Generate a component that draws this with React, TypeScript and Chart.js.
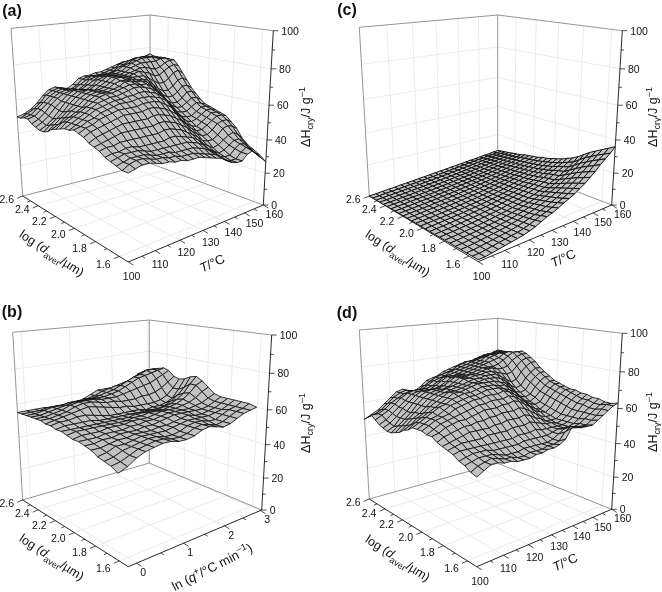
import React, { useEffect, useRef } from "react";
import { Chart, registerables } from "chart.js";
Chart.register(...registerables);

const dTicks = [2.6, 2.4, 2.2, 2.0, 1.8, 1.6];
const dMinor = [2.5, 2.3, 2.1, 1.9, 1.7];
const tempTicks = [100, 110, 120, 130, 140, 150, 160];
const tempMinor = [105, 115, 125, 135, 145, 155];
const qTicks = [0, 1, 2, 3];
const qMinor = [0.5, 1.5, 2.5];
const zTicks = [0, 20, 40, 60, 80, 100];
const zMinor = [10, 30, 50, 70, 90];

// rows: d from 2.6 to the low end; columns: T (or ln q) from low to high
const surfaceA = [
[50,51,53,56,60,63,64,63,62,64,67,68,68,69,69,70,71,72,73,73,73,74,74,75,76],
[50,52,54,57,61,63,64,63,62,64,67,68,68,68,69,70,71,73,74,74,75,75,75,75,75],
[51,52,55,58,61,63,64,63,63,65,67,69,69,69,69,70,72,73,75,76,76,76,75,75,75],
[51,52,55,58,61,63,64,64,63,65,68,69,69,69,70,71,73,74,76,77,77,77,76,75,75],
[49,51,54,58,61,63,64,64,64,66,68,70,70,70,70,71,73,75,76,77,77,77,76,76,75],
[48,50,53,57,60,63,65,65,64,66,69,70,70,70,70,71,73,74,75,75,75,75,76,76,75],
[47,49,52,56,60,63,65,65,65,67,69,71,71,70,70,71,72,73,73,72,71,72,74,75,75],
[47,50,53,56,60,63,65,66,65,67,69,71,71,70,70,71,72,71,70,68,68,70,72,73,72],
[48,51,54,57,60,63,65,66,66,67,69,71,71,70,70,70,70,68,66,64,64,66,69,70,68],
[50,52,55,58,60,63,65,66,66,67,69,70,70,70,69,69,68,65,62,60,60,62,65,66,64],
[51,54,56,58,60,63,65,66,66,67,68,70,70,69,69,68,65,62,59,57,57,59,62,62,60],
[52,55,57,59,61,63,65,66,66,67,68,69,69,68,68,66,63,60,56,54,54,56,59,59,57],
[53,55,57,59,61,63,64,65,65,66,67,68,68,67,66,64,61,57,54,52,52,54,56,56,54],
[53,55,57,59,61,62,63,64,64,65,65,66,66,65,64,62,59,55,51,50,50,52,54,53,52],
[54,55,57,58,60,61,62,63,63,63,64,64,64,63,62,60,56,52,49,48,48,50,52,52,51],
[53,55,56,58,59,60,61,61,61,61,62,62,62,61,59,57,53,50,47,46,47,49,51,51,50],
[52,54,55,56,57,58,59,59,59,59,60,60,59,58,56,54,50,47,45,44,46,48,50,50,49],
[50,52,53,54,55,56,56,56,56,56,57,57,56,55,53,51,48,45,43,43,45,47,49,49,48],
[49,50,51,52,53,53,53,53,53,53,54,54,53,52,50,48,45,43,41,41,43,46,47,47,45],
[48,49,49,50,50,50,50,50,50,50,51,51,50,49,47,45,43,40,39,39,41,44,45,44,42],
[46,47,47,48,48,47,47,47,47,47,48,48,47,46,45,43,40,38,36,37,39,41,42,40,37],
[45,46,47,47,47,46,45,45,45,45,45,45,45,44,43,41,38,36,34,35,37,39,39,37,34],
[44,45,46,46,46,45,44,44,44,43,43,43,43,42,41,39,37,34,33,33,36,38,37,34,32],
[43,45,46,46,45,44,44,43,43,42,42,42,41,40,39,38,36,33,32,32,35,37,35,32,30],
[43,44,45,45,44,43,43,42,42,41,41,41,40,39,38,37,35,33,32,32,35,36,33,30,27],
];

const surfaceB = [
[55,55,55,55,54,54,54,55,56,58,60,60,60,60,60,62,66,67,67],
[55,55,55,56,56,56,56,56,57,58,60,61,62,63,64,66,68,69,69],
[55,55,56,57,57,58,58,58,58,59,60,61,63,65,67,68,70,70,70],
[55,55,56,57,58,59,59,59,59,59,60,61,63,65,67,68,69,70,71],
[55,55,56,57,59,60,60,60,59,59,59,60,61,62,63,64,66,68,70],
[55,55,56,57,59,60,60,59,58,58,57,57,57,58,58,59,61,64,67],
[54,55,56,57,58,59,58,57,56,55,55,54,54,54,54,55,57,61,66],
[54,55,55,56,56,55,54,53,53,53,53,53,52,53,53,54,56,61,67],
[53,54,54,54,54,53,53,53,53,53,53,53,53,53,54,56,59,63,69],
[53,53,53,53,53,53,53,53,53,54,54,54,54,55,56,58,61,66,70],
[52,53,53,53,53,53,53,53,54,54,55,55,55,56,57,59,62,66,68],
[51,52,52,52,53,53,53,54,54,54,55,56,56,56,57,58,60,63,65],
[51,51,51,52,52,52,53,53,54,54,55,56,56,56,56,57,58,60,62],
[50,50,51,51,52,52,52,53,53,54,55,56,56,56,56,56,57,59,61],
[49,49,50,51,51,52,52,52,53,53,54,55,56,55,55,56,57,59,61],
[47,48,50,50,51,52,52,52,52,53,54,55,55,55,55,56,57,59,61],
[46,47,49,50,51,52,52,51,51,52,54,55,55,54,54,56,58,59,61],
[45,46,48,50,51,52,52,51,51,52,54,55,54,53,54,56,58,59,61],
[43,45,48,50,51,52,52,51,51,52,54,55,54,53,54,56,58,59,60],
];

const surfaceC = [
[0,.3,.7,1,1.3,1.7,2,2.3,2.7,3,3.3,3.7,4,4.3,4.7,5,5.3,5.7,6,6.3,6.7,7,7.3,7.7,8],
[0,.3,.7,1,1.3,1.7,2,2.3,2.7,3,3.3,3.7,4,4.4,4.8,5.2,5.6,6,6.3,6.7,7,7.4,7.7,8.1,8.5],
[0,.4,.7,1,1.3,1.7,2,2.3,2.7,3,3.4,3.7,4.1,4.5,4.9,5.3,5.7,6.1,6.5,6.9,7.3,7.7,8.1,8.6,9],
[.1,.4,.7,1,1.3,1.7,2,2.3,2.7,3,3.4,3.8,4.1,4.5,5,5.4,5.8,6.2,6.7,7.1,7.6,8,8.5,9,9.5],
[.1,.4,.7,1,1.3,1.7,2,2.3,2.7,3,3.4,3.8,4.2,4.6,5,5.4,5.9,6.3,6.8,7.3,7.8,8.3,8.8,9.4,10],
[.2,.5,.8,1.1,1.4,1.7,2,2.3,2.7,3,3.4,3.8,4.2,4.6,5,5.5,6,6.4,6.9,7.5,8,8.6,9.2,9.8,10.5],
[.2,.5,.8,1.1,1.4,1.7,2,2.3,2.7,3,3.4,3.8,4.2,4.6,5,5.5,6,6.5,7.1,7.7,8.3,8.9,9.6,10.3,11],
[.3,.5,.8,1.1,1.4,1.7,2,2.4,2.7,3.1,3.5,3.9,4.3,4.7,5.2,5.7,6.2,6.7,7.3,8,8.6,9.3,10.1,11,12],
[.3,.6,.8,1.1,1.4,1.7,2.1,2.4,2.8,3.1,3.5,3.9,4.3,4.8,5.3,5.8,6.3,6.9,7.5,8.2,8.9,9.7,10.5,11.5,12.5],
[.3,.6,.8,1.1,1.4,1.8,2.1,2.4,2.8,3.2,3.6,4,4.4,4.9,5.4,5.9,6.5,7.1,7.8,8.5,9.2,10,10.9,11.9,13],
[.4,.6,.9,1.2,1.5,1.8,2.1,2.4,2.8,3.2,3.6,4.1,4.5,5,5.5,6.1,6.7,7.3,8,8.8,9.6,10.4,11.3,12.4,13.5],
[.4,.6,.9,1.2,1.5,1.8,2.1,2.5,2.9,3.3,3.7,4.1,4.6,5.1,5.7,6.3,6.9,7.6,8.3,9.1,10,10.9,11.9,13.1,14.5],
[.5,.7,.9,1.2,1.5,1.8,2.1,2.5,2.9,3.3,3.7,4.2,4.7,5.3,5.9,6.6,7.3,8,8.8,9.6,10.5,11.4,12.4,13.7,15],
[.5,.7,1,1.2,1.5,1.8,2.2,2.5,2.9,3.4,3.8,4.3,4.8,5.4,6,6.7,7.4,8.2,9,9.9,10.9,11.9,13.1,14.5,16],
[.5,.7,1,1.3,1.6,1.9,2.2,2.6,3,3.4,3.9,4.4,5,5.6,6.2,7,7.8,8.6,9.5,10.5,11.6,12.7,14,15.4,17],
[.6,.8,1,1.3,1.6,1.9,2.3,2.7,3.1,3.5,4,4.6,5.2,5.8,6.5,7.3,8.1,9,10,11.1,12.2,13.4,14.8,16.3,18],
[.6,.8,1,1.3,1.6,2,2.3,2.7,3.2,3.6,4.1,4.7,5.4,6,6.8,7.6,8.6,9.6,10.7,11.9,13.2,14.5,16.1,17.7,19.5],
[.7,.9,1.1,1.4,1.7,2,2.4,2.8,3.2,3.7,4.2,4.9,5.5,6.2,7,8,9,10.1,11.3,12.6,14,15.5,17.2,19,21],
[.7,.9,1.1,1.4,1.7,2,2.4,2.8,3.3,3.8,4.3,5,5.7,6.4,7.3,8.2,9.3,10.4,11.7,13,14.6,16.3,18.2,20.5,23],
[.8,.9,1.2,1.5,1.8,2.2,2.6,3,3.5,4.1,4.7,5.4,6.2,7,8,9,10.2,11.5,13,14.6,16.4,18.4,20.5,23,25.5],
[.8,.9,1.2,1.6,1.9,2.3,2.7,3.2,3.7,4.4,5.1,5.9,6.8,7.8,8.8,10,11.4,12.8,14.5,16.3,18.4,20.6,23,25.5,28],
[.9,1,1.3,1.7,2.1,2.5,2.9,3.4,4,4.7,5.5,6.4,7.4,8.5,9.7,11,12.5,14.2,16,18,20.3,22.7,25,27.5,30],
[.9,1,1.4,1.8,2.2,2.7,3.1,3.6,4.3,5.1,6,7,8,9.2,10.6,12,13.6,15.4,17.4,19.6,22,24.5,27,29.5,32],
[1,1,1.4,1.9,2.4,2.8,3.3,3.8,4.6,5.5,6.7,8,9,10.3,11.8,13.2,14.8,16.7,18.7,21,23.5,26.2,28.7,31.2,34],
[1,1,1.5,2,2.5,3,3.5,4,5,6,7.5,9,10,11.5,13,14.5,16,18,20,22.5,25,28,30.5,33,36],
];

const surfaceD = [
[50,52,54,57,60,63,64,62,62,64,67,68,69,71,72,73,74,75,75,76,77,78,78,79,80],
[52,53,55,58,61,63,64,63,63,65,67,69,70,71,72,74,75,76,76,77,78,79,79,80,80],
[54,54,56,59,61,63,64,64,64,66,68,69,70,72,73,74,75,76,77,78,79,79,80,80,80],
[52,54,56,59,62,64,65,65,65,66,68,70,71,72,73,74,75,76,77,79,80,80,80,80,80],
[50,52,55,58,61,64,65,65,65,67,69,71,71,72,73,74,75,76,77,79,80,81,81,80,80],
[49,51,54,58,61,64,66,66,66,67,69,71,72,72,73,74,75,76,77,78,79,81,82,81,81],
[48,50,54,57,61,64,66,67,67,68,70,72,72,72,73,74,75,75,75,76,78,80,82,82,82],
[48,51,54,57,61,64,66,67,67,68,70,72,72,73,73,74,75,75,74,74,75,78,80,81,81],
[49,52,55,58,61,64,66,67,68,69,70,72,72,73,73,74,74,73,72,71,72,75,78,79,79],
[50,53,56,58,61,64,66,67,68,69,70,71,72,72,73,73,73,71,69,67,68,72,75,77,77],
[52,54,57,59,62,64,66,68,68,69,70,71,71,72,72,72,71,69,66,64,65,69,72,74,74],
[53,56,58,60,62,64,66,68,68,69,70,71,71,71,71,70,69,66,63,62,63,67,70,72,72],
[55,57,59,61,63,64,66,67,68,68,69,70,70,70,69,69,67,64,61,60,61,65,68,70,70],
[55,57,59,60,62,64,65,66,67,67,68,69,69,69,68,67,65,62,59,58,60,63,66,68,68],
[55,57,59,60,61,63,64,65,66,66,67,67,67,68,67,65,63,60,58,57,58,62,65,67,67],
[54,56,58,59,60,61,62,63,64,64,65,65,65,66,65,63,61,58,56,55,57,61,64,66,66],
[54,55,57,58,59,59,60,61,62,62,62,63,63,64,63,61,59,56,55,54,56,60,63,65,65],
[52,54,55,56,57,57,58,58,59,59,60,60,60,61,60,58,56,54,53,53,55,59,62,64,65],
[51,52,53,54,55,55,55,55,56,56,57,57,57,58,57,55,54,52,52,52,54,58,61,63,64],
[50,51,52,52,52,52,53,53,53,53,54,54,54,55,54,53,52,52,51,52,54,57,60,62,64],
[49,50,50,50,50,50,50,50,50,50,51,51,51,52,51,51,51,51,51,52,54,57,60,62,63],
[47,48,49,49,49,48,48,48,48,48,49,49,49,49,49,50,51,51,51,52,54,57,59,61,63],
[46,47,48,48,48,47,46,46,46,47,47,47,47,47,48,50,52,52,52,53,55,57,59,61,62],
[44,46,47,48,47,46,46,45,45,46,46,46,47,47,48,52,54,53,53,53,55,57,60,62,62],
[43,45,47,47,46,46,45,45,45,46,46,47,47,48,50,55,55,54,54,54,56,58,60,62,63],
];

type Pt = [number, number];
type Rich = [string, string?];
interface Panel {
  tag: string; ox: number; oy: number; grid: number[][]; vMin: number; mesh: number;
  L0: Pt; F0: Pt; R0: Pt; B0: Pt; L1: Pt; F1: Pt; R1: Pt; B1: Pt;
  uOf: (x: number) => number; uTicks: number[]; uMinor: number[];
  uFmt: (x: number) => string; uTitle: Rich[]; uPos: Pt; uRot: number;
  dPos: Pt; zPos: Pt; tagPos: Pt; uOff: (p: number) => Pt;
}
const dMin = 1.53;
const vOf = (d: number) => (d - dMin) / (2.6 - dMin);
const uTemp = (t: number) => (t - 100) / 60;
const uQ = (q: number) => (q + 0.16) / 3.2;
const tempTitle: Rich[] = [["T", "i"], ["/°C"]];
const qTitle: Rich[] = [["ln ("], ["q", "i"], ["+", "u"], ["/°C min"], ["−1", "u"], [")"]];
const tempOff = (p: number): Pt => [3.3 + 7.7 * p, 15.3 - 5.3 * p];
const qOff = (_p: number): Pt => [6.7, 10];
const tempFmt = (x: number) => String(x);

const panels: Panel[] = [
  { tag: "(a)", ox: 0, oy: 0, grid: surfaceA, vMin: 0, mesh: 0.85,
    L0: [22.7, 196], F0: [128.3, 262], R0: [263.3, 205], B0: [150, 163.3],
    L1: [11, 28.3], F1: [128, 41], R1: [273.3, 30.7], B1: [150, 15],
    uOf: uTemp, uTicks: tempTicks, uMinor: tempMinor, uFmt: tempFmt, uTitle: tempTitle,
    uPos: [212, 263], uRot: -25, dPos: [52, 253], zPos: [305, 117], tagPos: [12, 12], uOff: tempOff },
  { tag: "(c)", ox: 330, oy: 0, grid: surfaceC, vMin: 0, mesh: 1,
    L0: [369.3, 196], F0: [478.3, 261.7], R0: [611.7, 205], B0: [497.7, 161],
    L1: [359.3, 27.3], F1: [477, 41], R1: [622.3, 30.7], B1: [497.7, 15],
    uOf: uTemp, uTicks: tempTicks, uMinor: tempMinor, uFmt: tempFmt, uTitle: tempTitle,
    uPos: [563, 258], uRot: -25, dPos: [398, 253], zPos: [652, 117], tagPos: [347, 11], uOff: tempOff },
  { tag: "(b)", ox: 0, oy: 296, grid: surfaceB, vMin: 0.07, mesh: 0.85,
    L0: [22.7, 500], F0: [128.3, 566.7], R0: [261.7, 510], B0: [149.3, 463],
    L1: [12.7, 332.3], F1: [128, 345], R1: [271.7, 335], B1: [149.3, 320],
    uOf: uQ, uTicks: qTicks, uMinor: qMinor, uFmt: tempFmt, uTitle: qTitle,
    uPos: [212, 567], uRot: -27, dPos: [52, 557], zPos: [305, 423], tagPos: [12, 313], uOff: qOff },
  { tag: "(d)", ox: 330, oy: 296, grid: surfaceD, vMin: 0, mesh: 0.85,
    L0: [369.3, 499], F0: [476.7, 566.7], R0: [611.7, 509.3], B0: [497.7, 463.3],
    L1: [359.3, 330], F1: [477, 344], R1: [622.3, 333.3], B1: [497.7, 318.3],
    uOf: uTemp, uTicks: tempTicks, uMinor: tempMinor, uFmt: tempFmt, uTitle: tempTitle,
    uPos: [565, 562], uRot: -25, dPos: [398, 558], zPos: [652, 422], tagPos: [347, 314], uOff: tempOff },
];

const warp = (t: number, c: number) => t / (t + (1 - t) * c);
const bil = (a: Pt, b: Pt, c: Pt, d: Pt, s: number, t: number): Pt => [
  (1 - s) * (1 - t) * a[0] + s * (1 - t) * b[0] + (1 - s) * t * c[0] + s * t * d[0],
  (1 - s) * (1 - t) * a[1] + s * (1 - t) * b[1] + (1 - s) * t * c[1] + s * t * d[1],
];
function project(p: Panel, u: number, v: number, z: number): Pt {
  const s = warp(u, 0.805), t = warp(v, 0.75), w = warp(z / 100, 1.12);
  const lo = bil(p.F0, p.R0, p.L0, p.B0, s, t);
  const hi = bil(p.F1, p.R1, p.L1, p.B1, s, t);
  return [lo[0] + (hi[0] - lo[0]) * w, lo[1] + (hi[1] - lo[1]) * w];
}
const pts = (list: Pt[]) => list.map(([x, y]) => ({ x, y }));
const GAP = { x: null as any, y: null as any };

function segments(list: [Pt, Pt][]) {
  const out: any[] = [];
  list.forEach(([a, b]) => out.push({ x: a[0], y: a[1] }, { x: b[0], y: b[1] }, GAP));
  return out;
}
const lineSet = (data: any[], color: string, width: number) => ({
  data, showLine: true, borderColor: color, borderWidth: width, pointRadius: 0, fill: false, tension: 0, clip: false,
});

function buildDatasets(p: Panel) {
  const sets: any[] = [];
  const g = p.grid;
  const nR = g.length, nC = g[0].length;
  const vAt = (r: number) => 1 - (r / (nR - 1)) * (1 - p.vMin);
  const uAt = (i: number) => i / (nC - 1);
  // nearest cell first: the first dataset is drawn last
  for (let r = nR - 2; r >= 0; r--) {
    for (let i = 0; i < nC - 1; i++) {
      const q = [
        project(p, uAt(i), vAt(r), g[r][i]),
        project(p, uAt(i + 1), vAt(r), g[r][i + 1]),
        project(p, uAt(i + 1), vAt(r + 1), g[r + 1][i + 1]),
        project(p, uAt(i), vAt(r + 1), g[r + 1][i]),
      ] as Pt[];
      sets.push({
        data: pts([...q, q[0]]), showLine: true, pointRadius: 0, tension: 0, clip: false,
        borderColor: "#101010", borderWidth: p.mesh, backgroundColor: "#c2c2c2", fill: "shape",
      });
    }
  }
  // axes: drawn beneath the surface
  const frameDark: [Pt, Pt][] = [[p.L0, p.F0], [p.F0, p.R0], [p.R0, p.R1]];
  const frameGrey: [Pt, Pt][] = [[p.L0, p.L1], [p.L1, p.B1], [p.B1, p.R1], [p.B0, p.B1], [p.L0, p.B0], [p.B0, p.R0]];
  const ticks: [Pt, Pt][] = [];
  const add = (a: Pt, dx: number, dy: number): [Pt, Pt] => [a, [a[0] + dx, a[1] + dy]];
  p.uTicks.forEach((t) => ticks.push(add(project(p, p.uOf(t), 0, 0), 5, 3)));
  p.uMinor.forEach((t) => ticks.push(add(project(p, p.uOf(t), 0, 0), 3, 1.9)));
  dTicks.forEach((d) => ticks.push(add(project(p, 0, vOf(d), 0), -5.5, 2.3)));
  dMinor.forEach((d) => ticks.push(add(project(p, 0, vOf(d), 0), -3.2, 1.4)));
  zTicks.forEach((z) => ticks.push(add(project(p, 1, 0, z), 5, 0)));
  zMinor.forEach((z) => ticks.push(add(project(p, 1, 0, z), 3, 0)));
  const grid: [Pt, Pt][] = [];
  p.uTicks.forEach((t) => {
    const u = p.uOf(t);
    if (u <= 0.001 || u >= 0.999) return;
    grid.push([project(p, u, 0, 0), project(p, u, 1, 0)]);
    grid.push([project(p, u, 1, 0), project(p, u, 1, 100)]);
  });
  dTicks.forEach((d) => {
    const v = vOf(d);
    if (v >= 0.999) return;
    grid.push([project(p, 0, v, 0), project(p, 1, v, 0)]);
    grid.push([project(p, 1, v, 0), project(p, 1, v, 100)]);
  });
  zTicks.forEach((z) => {
    if (z === 0 || z === 100) return;
    grid.push([project(p, 0, 1, z), project(p, 1, 1, z)]);
    grid.push([project(p, 1, 1, z), project(p, 1, 0, z)]);
  });
  sets.push(lineSet(segments(frameDark), "#111111", 0.9));
  sets.push(lineSet(segments(ticks), "#222222", 0.8));
  sets.push(lineSet(segments(frameGrey), "#7a7a7a", 0.8));
  sets.push(lineSet(segments(grid), "#e6e6e6", 0.8));
  return sets;
}

const FONT = '"Liberation Sans", Arial, sans-serif';
function richText(ctx: any, parts: Rich[], cx: number, cy: number, deg: number, size: number) {
  const fontOf = (st?: string) => {
    const small = st === "s" || st === "u";
    return `${st === "i" ? "italic " : ""}${small ? size * 0.72 : size}px ${FONT}`;
  };
  let total = 0;
  parts.forEach(([t, st]) => { ctx.font = fontOf(st); total += ctx.measureText(t).width; });
  ctx.save();
  ctx.translate(cx, cy);
  ctx.rotate((deg * Math.PI) / 180);
  ctx.textAlign = "left";
  ctx.textBaseline = "alphabetic";
  let x = -total / 2;
  parts.forEach(([t, st]) => {
    ctx.font = fontOf(st);
    const dy = st === "s" ? size * 0.28 : st === "u" ? -size * 0.38 : 0;
    ctx.fillText(t, x, size * 0.36 + dy);
    x += ctx.measureText(t).width;
  });
  ctx.restore();
}

const zTitle: Rich[] = [["ΔH", "n"], ["cry", "s"], ["/J g"], ["−1", "u"]];
const dTitle: Rich[] = [["log ("], ["d", "i"], ["aver", "s"], ["/µm)"]];

function textPlugin(p: Panel) {
  return {
    id: "panelText" + p.tag,
    afterDraw(chart: any) {
      const { ctx, scales } = chart;
      const X = (x: number) => scales.x.getPixelForValue(x);
      const Y = (y: number) => scales.y.getPixelForValue(y);
      ctx.save();
      ctx.fillStyle = "#111111";
      ctx.font = `10.5px ${FONT}`;
      ctx.textBaseline = "middle";
      ctx.textAlign = "left";
      zTicks.forEach((z) => {
        const a = project(p, 1, 0, z);
        ctx.fillText(String(z), X(a[0] + 8), Y(a[1] + 1));
      });
      ctx.textAlign = "center";
      p.uTicks.forEach((t) => {
        const u = p.uOf(t);
        const a = project(p, u, 0, 0);
        const o = p.uOff(warp(u, 0.805));
        ctx.fillText(p.uFmt(t), X(a[0] + o[0]), Y(a[1] + o[1]));
      });
      dTicks.forEach((d) => {
        const v = vOf(d);
        const a = project(p, 0, v, 0);
        const o: Pt = [-16, 4 + (1 - warp(v, 0.75)) * 5];
        ctx.fillText(d.toFixed(1), X(a[0] + o[0]), Y(a[1] + o[1]));
      });
      ctx.font = `bold 16px ${FONT}`;
      ctx.fillText(p.tag, X(p.tagPos[0]), Y(p.tagPos[1]));
      richText(ctx, dTitle, X(p.dPos[0]), Y(p.dPos[1]), 33, 12.5);
      richText(ctx, p.uTitle, X(p.uPos[0]), Y(p.uPos[1]), p.uRot, 13);
      richText(ctx, zTitle, X(p.zPos[0]), Y(p.zPos[1]), -90, 12.5);
      ctx.restore();
    },
  };
}

function PanelChart({ p }: { p: Panel }) {
  const ref = useRef<HTMLCanvasElement>(null);
  useEffect(() => {
    const chart = new Chart(ref.current as any, {
      type: "scatter",
      data: { datasets: buildDatasets(p) },
      options: {
        animation: false, responsive: false, devicePixelRatio: 1, events: [],
        layout: { padding: 0 },
        scales: {
          x: { type: "linear", display: false, min: p.ox, max: p.ox + 331 },
          y: { type: "linear", display: false, reverse: true, min: p.oy, max: p.oy + 296 },
        },
        plugins: { legend: { display: false }, tooltip: { enabled: false } },
      },
      plugins: [textPlugin(p)],
    } as any);
    return () => chart.destroy();
  }, [p]);
  return (
    <canvas ref={ref} width={331} height={296}
      style={{ position: "absolute", left: p.ox, top: p.oy, width: 331, height: 296 }} />
  );
}

export default function App() {
  return (
    <div style={{ position: "absolute", left: 0, top: 0, width: 662, height: 592, background: "#fff", overflow: "hidden" }}>
      {panels.map((p) => <PanelChart key={p.tag} p={p} />)}
    </div>
  );
}
